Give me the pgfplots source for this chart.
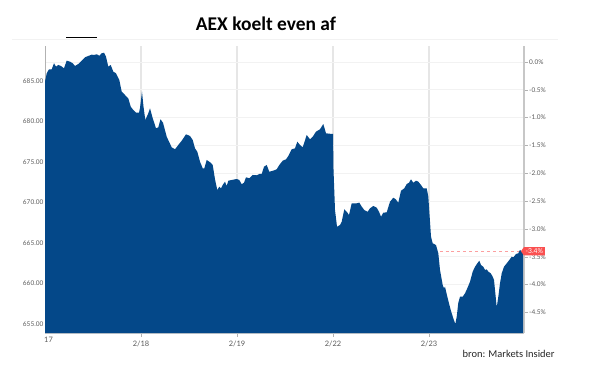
\documentclass[border=0pt]{standalone}
\usepackage{fontspec}
\setmainfont{Lato}
\newfontfamily\carlito{Carlito}
\usepackage{pgfplots}
\pgfplotsset{compat=1.18}
\usetikzlibrary{shapes.symbols}
\definecolor{aexblue}{RGB}{4,72,137}
\definecolor{gridgray}{RGB}{230,230,230}
\definecolor{hgrid}{RGB}{242,242,242}
\definecolor{ticktext}{RGB}{90,90,90}
\definecolor{mired}{RGB}{250,80,80}
\pgfplotsset{/pgf/number format/assume math mode=true}
\begin{document}
\begin{tikzpicture}[x=1bp,y=1bp]
\useasboundingbox (0,0) rectangle (600,374);
\draw[hgrid, line width=0.8bp] (12,335) -- (558,335);
\draw[black, line width=1.1bp] (66,336.5) -- (97,336.5);
\node[font=\carlito\bfseries\fontsize{19.5}{22}\selectfont, anchor=base] at (266,344) {AEX koelt even af};
\node[font=\carlito\fontsize{10.5}{12}\selectfont, anchor=base west, text=black!85] at (459,16.5) {bron: Markets Insider};

\begin{axis}[
  at={(45bp,41bp)}, anchor=south west, scale only axis,
  width=479bp, height=287bp,
  xmin=0, xmax=479, ymin=-4.868, ymax=0.287,
  axis x line*=bottom, axis y line*=right,
  xtick={96,192,288,384}, xticklabels={2/18,2/19,2/22,2/23},
  extra x ticks={0}, extra x tick labels={17},
  extra x tick style={xticklabel style={anchor=north west, xshift=-2bp}, major tick length=0, major grid style={draw=none}},
  ytick={0,-0.5,-1,-1.5,-2,-2.5,-3,-3.5,-4,-4.5},
  yticklabel={\pgfmathprintnumber[fixed,fixed zerofill,precision=1]{\tick}\%},
  xmajorgrids, ymajorgrids,
  x grid style={gridgray, line width=1.2bp},
  y grid style={hgrid, line width=0.8bp},
  tick align=outside,
  x axis line style={draw=black!20, line width=0.8bp},
  y axis line style={draw=black!22, line width=1.6bp},
  xtick style={draw=black!30, line width=0.6bp},
  ytick style={draw=black!30, line width=0.6bp},
  major tick length=3.5bp,
  xticklabel style={font=\fontsize{7.5}{8}\selectfont, text=ticktext, inner sep=1bp, yshift=-3bp},
  yticklabel style={font=\fontsize{6.5}{7.5}\selectfont, text=ticktext, inner sep=1.5bp},
]
\addplot[mired!55, dashed, line width=0.7bp] coordinates {(0,-3.4) (479,-3.4)};
\coordinate (lab) at (axis cs:479,-3.4);
\end{axis}

\begin{axis}[
  at={(45bp,41bp)}, anchor=south west, scale only axis,
  width=479bp, height=287bp,
  xmin=0, xmax=479, ymin=653.89, ymax=689.32,
  axis x line=none, axis y line*=left,
  ytick={655,660,665,670,675,680,685},
  yticklabel style={/pgf/number format/fixed, /pgf/number format/fixed zerofill, /pgf/number format/precision=2},
  yticklabel style={font=\fontsize{6.5}{7.5}\selectfont, text=ticktext, inner sep=1.5bp},
  major tick length=0,
  y axis line style={draw=black!30, line width=0.6bp},
]
\addplot[draw=none, fill=aexblue] table {
x y
0 684.91
1.7 685.95
4 686.44
6.7 686.44
9 687.19
11 686.77
13.3 686.98
16 686.85
19 686.57
21.7 687.51
25 687.38
27.7 687.19
30 686.85
33.3 687.10
36.7 687.51
40 687.93
43.3 688.09
46.7 688.25
49 688.21
51.7 688.30
54.3 688.12
56.7 688.42
59 688.49
61 688.00
63.3 686.77
65.7 686.98
68.3 686.15
71 685.95
74.3 685.12
76.7 683.68
80 683.27
83.3 682.86
85.7 681.83
88.3 681.42
91 681.09
94 681.09
95 681.67
97 683.68
98.5 681.83
100.3 680.19
103.3 681.01
105 681.63
107.7 680.40
111 679.16
113.3 679.28
115.5 680.27
118 679.85
121.7 678.12
126.7 676.81
130 676.57
133.3 677.10
136.7 677.63
141 678.42
145 678.21
147.7 677.72
150 676.69
152.3 676.27
155 675.04
157.7 674.22
159.3 674.22
161.7 675.25
165.7 674.91
167.7 674.63
170 672.86
172.3 671.54
174.3 671.95
176 671.75
177.7 672.16
180 672.57
181.7 672.04
183.3 672.69
186.7 672.78
191.7 672.90
194.3 672.78
196.7 672.25
199 672.44
201 673.11
204.3 672.99
207.7 673.40
211.7 673.36
214.3 673.52
216.7 673.52
219 674.42
221.7 674.63
224.3 673.80
228.3 673.93
231.7 674.10
234.3 674.63
237.7 675.16
241 675.33
243.3 675.74
246.7 676.57
250 676.69
252.3 677.51
255 677.10
257.7 676.81
261.7 678.33
265 677.80
267.7 678.12
271 678.74
275 679.04
278.3 679.69
281 678.54
286.7 678.46
288 678.46
288.5 674.01
290 669.07
292 667.01
295 667.22
296.7 667.63
299.3 669.16
301.7 668.86
304 668.46
306.7 669.90
311.7 669.90
314.3 669.98
316.7 669.49
319.3 669.07
322.7 668.86
325 669.28
328.3 669.57
331.7 669.36
334 668.86
336 668.25
338.3 668.74
341.7 668.79
345 670.10
348.3 670.59
350.7 670.40
353.3 669.98
356 671.46
359.3 671.75
361.7 672.28
364 672.44
366 672.86
368.3 672.44
371 672.69
373.3 672.57
376 672.16
378.3 671.75
381.7 671.75
383.3 670.72
386 665.78
387.7 664.96
391 664.75
393.3 663.73
395 661.67
397.7 659.81
399 659.41
400 659.60
402.3 658.37
405.7 656.73
408.3 655.70
410.3 655.00
411.7 655.90
413.3 657.63
415 658.37
417.7 658.37
420 658.79
422.3 659.41
425 660.22
427.7 661.46
430 662.07
432.3 662.49
434.3 662.81
436 662.28
438.3 662.07
440 661.67
441.7 661.75
443.3 661.46
445.7 661.26
447.7 660.84
449 660.43
450 659.20
451.7 657.06
453.3 658.37
455 660.02
456.7 661.26
459 662.07
461.7 662.49
464.3 662.90
466.7 663.31
468.3 663.23
471 663.64
473.3 663.73
475 664.14
476.7 663.93
478 664.05
} \closedcycle;
\end{axis}

\node[signal, signal to=west, signal pointer angle=110, fill=mired, text=white,
  font=\fontsize{6.8}{7.5}\selectfont, inner xsep=1.8bp, inner ysep=1.6bp, anchor=west]
  at ([xshift=-3.3bp]lab) {-3.4\%};
\end{tikzpicture}
\end{document}
